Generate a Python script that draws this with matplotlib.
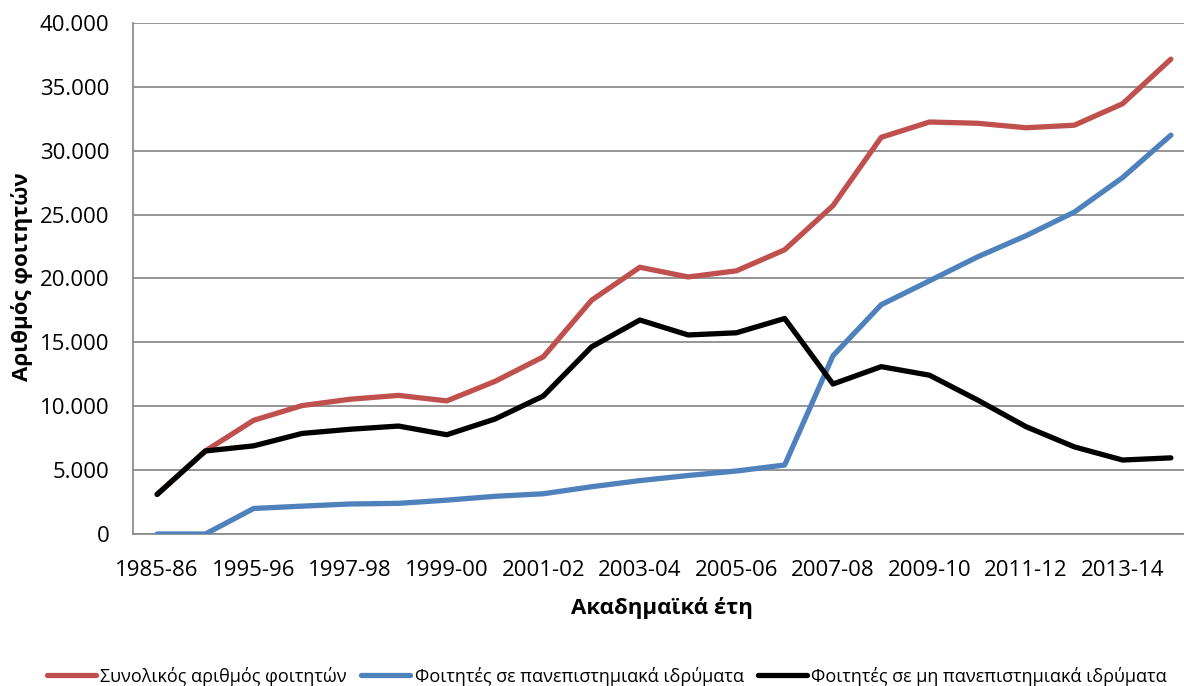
import matplotlib
matplotlib.use("Agg")
import matplotlib.pyplot as plt
from matplotlib.ticker import FuncFormatter, MultipleLocator

plt.rcParams['font.family'] = ['Open Sans', 'DejaVu Sans']

years = ['1985-86', '1990-91', '1995-96', '1996-97', '1997-98', '1998-99', '1999-00',
         '2000-01', '2001-02', '2002-03', '2003-04', '2004-05', '2005-06', '2006-07',
         '2007-08', '2008-09', '2009-10', '2010-11', '2011-12', '2012-13', '2013-14', '2014-15']
total = [3100, 6500, 8900, 10050, 10550, 10850, 10420, 11950, 13870, 18300, 20880,
         20120, 20600, 22250, 25700, 31050, 32250, 32150, 31800, 32000, 33680, 37170]
univ = [0, 0, 2000, 2180, 2350, 2400, 2650, 2950, 3150, 3700, 4180,
        4580, 4930, 5400, 13950, 17950, 19820, 21700, 23350, 25200, 27900, 31220]
nonuniv = [3100, 6500, 6900, 7870, 8200, 8450, 7770, 9000, 10800, 14650, 16750,
           15580, 15750, 16870, 11740, 13100, 12430, 10480, 8400, 6820, 5790, 5960]

labels = ['Συνολικός αριθμός φοιτητών',
          'Φοιτητές σε πανεπιστημιακά ιδρύματα',
          'Φοιτητές σε μη πανεπιστημιακά ιδρύματα']
colors = ['#C0504D', '#4F81BD', '#000000']

W, H = 1184, 686
fig = plt.figure(figsize=(W / 100, H / 100), dpi=100)
left, right, top, bottom = 133, 1195, 23, 534
ax = fig.add_axes([left / W, 1 - bottom / H, (right - left) / W, (bottom - top) / H])

x = list(range(len(years)))
lines = []
for ys, c, lab in zip([total, univ, nonuniv], colors, labels):
    ln, = ax.plot(x, ys, color=c, lw=3.8, label=lab, solid_capstyle='round',
                  solid_joinstyle='round', zorder=3)
    lines.append(ln)

ax.set_xlim(-0.5, len(years) - 0.5)
ax.set_ylim(0, 40000)
ax.yaxis.set_major_locator(MultipleLocator(5000))
ax.yaxis.set_major_formatter(FuncFormatter(lambda v, p: f"{int(v):,}".replace(',', '.')))
ax.set_xticks(x[::2])
ax.set_xticklabels(years[::2])

ax.grid(axis='y', color='#8C8C8C', lw=1.3, zorder=0)
ax.set_axisbelow(True)
for s in ['top', 'right']:
    ax.spines[s].set_visible(False)
for s in ['left', 'bottom']:
    ax.spines[s].set_color('#8C8C8C')
    ax.spines[s].set_linewidth(1.3)
ax.tick_params(axis='both', length=0, labelsize=16, colors='#000000')
ax.tick_params(axis='y', pad=17)
ax.tick_params(axis='x', pad=19)

ax.set_ylabel('Αριθμός φοιτητών', fontsize=16, fontweight='bold')
ax.set_xlabel('Ακαδημαϊκά έτη', fontsize=16, fontweight='bold')
ax.yaxis.set_label_coords(-(133 - 22) / (right - left), (bottom - 277) / (bottom - top))
ax.yaxis.label.set_va('center')
ax.xaxis.set_label_coords((662 - left) / (right - left), -(608 - 534) / (bottom - top))
ax.xaxis.label.set_va('center')

fig.legend(handles=lines, labels=labels, loc='center', bbox_to_anchor=(607 / W, 1 - 676 / H),
           ncol=3, frameon=False, fontsize=13, handlelength=2.7, handletextpad=0.25,
           columnspacing=0.8, borderpad=0)

fig.savefig('out.png', dpi=100)
